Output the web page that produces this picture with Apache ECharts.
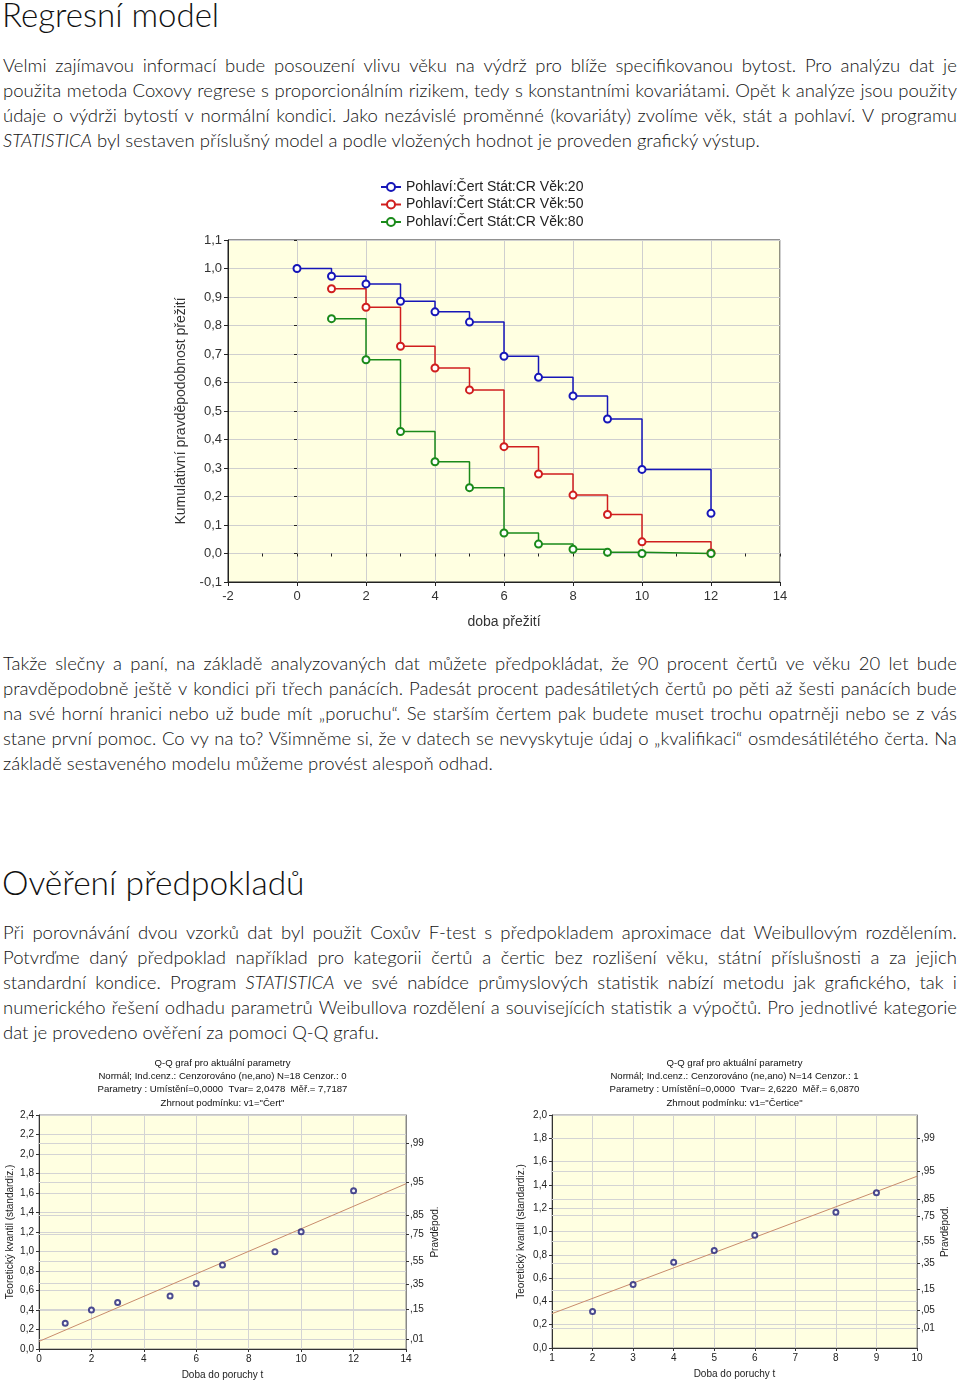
<!DOCTYPE html>
<html><head><meta charset="utf-8">
<script src="https://cdn.jsdelivr.net/npm/echarts@6/dist/echarts.min.js"></script>
<style>
body{margin:0;width:960px;height:1383px;position:relative;background:#fff;overflow:hidden;font-family:Lato,"Open Sans",sans-serif;font-weight:300;color:#111;}
.h{position:absolute;left:2px;font-weight:300;white-space:nowrap;}
.ln{position:absolute;left:3px;width:954px;height:25px;line-height:25px;font-size:18.5px;white-space:nowrap;}
.j{display:flex;justify-content:space-between;}
.c{position:absolute;}
</style></head><body>
<div class="h" style="top:-4px;font-size:33px;line-height:36px;">Regresní model</div>
<div class="h" style="top:864px;font-size:33.5px;line-height:36px;">Ověření předpokladů</div>
<div id="main" class="c" style="left:170px;top:170px;width:630px;height:465px;"></div>
<div id="qq1" class="c" style="left:0px;top:1052px;width:465px;height:331px;"></div>
<div id="qq2" class="c" style="left:500px;top:1052px;width:460px;height:331px;"></div>
<script>
// ---------- text ----------
const para1 = [
 "Velmi zajímavou informací bude posouzení vlivu věku na výdrž pro blíže specifikovanou bytost. Pro analýzu dat je",
 "použita metoda Coxovy regrese s proporcionálním rizikem, tedy s konstantními kovariátami. Opět k analýze jsou použity",
 "údaje o výdrži bytostí v normální kondici. Jako nezávislé proměnné (kovariáty) zvolíme věk, stát a pohlaví. V programu",
 "_STATISTICA_ byl sestaven příslušný model a podle vložených hodnot je proveden grafický výstup."
];
const para2 = [
 "Takže slečny a paní, na základě analyzovaných dat můžete předpokládat, že 90 procent čertů ve věku 20 let bude",
 "pravděpodobně ještě v kondici při třech panácích. Padesát procent padesátiletých čertů po pěti až šesti panácích bude",
 "na své horní hranici nebo už bude mít „poruchu“. Se starším čertem pak budete muset trochu opatrněji nebo se z vás",
 "stane první pomoc. Co vy na to? Všimněme si, že v datech se nevyskytuje údaj o „kvalifikaci“ osmdesátilétého čerta. Na",
 "základě sestaveného modelu můžeme provést alespoň odhad."
];
const para3 = [
 "Při porovnávání dvou vzorků dat byl použit Coxův F-test s předpokladem aproximace dat Weibullovým rozdělením.",
 "Potvrďme daný předpoklad například pro kategorii čertů a čertic bez rozlišení věku, státní příslušnosti a za jejich",
 "standardní kondice. Program _STATISTICA_ ve své nabídce průmyslových statistik nabízí metodu jak grafického, tak i",
 "numerického řešení odhadu parametrů Weibullova rozdělení a souvisejících statistik a výpočtů. Pro jednotlivé kategorie",
 "dat je provedeno ověření za pomoci Q-Q grafu."
];
function fmt(t){return t.replace(/_([^_]+)_/g,'<i>$1</i>');}
function addPara(lines, top0){
  lines.forEach((t,i)=>{
    const d=document.createElement('div');
    const last = i===lines.length-1;
    d.className='ln'+(last?'':' j');
    d.style.top=(top0+i*25)+'px';
    if(!last){
      t.split(/\s+/).forEach(w=>{const s=document.createElement('span');s.innerHTML=fmt(w);d.appendChild(s);});
    } else d.innerHTML=fmt(t);
    document.body.appendChild(d);
  });
}
addPara(para1,53);
addPara(para2,651);
addPara(para3,920);

// ---------- main chart data ----------
const seriesNames = ['Pohlaví:Čert Stát:CR Věk:20','Pohlaví:Čert Stát:CR Věk:50','Pohlaví:Čert Stát:CR Věk:80'];
const time20 = [0,1,2,3,4,5,6,7,8,9,10,12];
const surv20 = [1.000,0.973,0.946,0.885,0.848,0.812,0.692,0.618,0.553,0.472,0.295,0.141];
const time5080 = [1,2,3,4,5,6,7,8,9,10,12];
const surv50 = [0.929,0.864,0.727,0.651,0.574,0.375,0.279,0.205,0.137,0.041,0.002];
const surv80 = [0.824,0.680,0.428,0.322,0.231,0.072,0.033,0.015,0.004,0.000,0.000];
const seriesColors = ['#1616b8','#d01e1e','#1a8a1a'];

const AF = "'Liberation Sans', Arial, sans-serif";
const comma1 = v => (Math.abs(v)<1e-9?0:v).toFixed(1).replace('.',',');

function zip(xs,ys){return xs.map((x,i)=>[x,ys[i]]);}
const mainData = [zip(time20,surv20), zip(time5080,surv50), zip(time5080,surv80)];

const mainChart = echarts.init(document.getElementById('main'),null,{renderer:'canvas'});
mainChart.setOption({
  animation:false,
  legend:{orient:'vertical',left:205,top:5,itemWidth:20,itemHeight:10,itemGap:3.5,
    textStyle:{fontFamily:AF,fontSize:14,color:'#222'},data:seriesNames},
  grid:{left:58,top:70,width:552,height:342,show:true,backgroundColor:'#ffffe1',borderColor:'#222',borderWidth:1,outerBoundsMode:'none',containLabel:false},
  xAxis:[{type:'value',min:-2,max:14,interval:2,
    axisLine:{onZero:false,lineStyle:{color:'#222'}},axisTick:{length:4,lineStyle:{color:'#222'}},
    axisLabel:{fontFamily:AF,fontSize:13,color:'#333',margin:8},
    splitLine:{lineStyle:{color:'#cfcfcf'}},
    name:'doba přežití',nameLocation:'middle',nameGap:33,nameTextStyle:{fontFamily:AF,fontSize:14,color:'#333'}},
    {type:'value',position:'top',min:-2,max:14,interval:1,axisLine:{show:false},
     axisTick:{inside:true,length:3,lineStyle:{color:'#222'}},axisLabel:{show:false},splitLine:{show:false}}],
  yAxis:[{type:'value',min:-0.1,max:1.1,interval:0.1,
    axisLine:{show:true,onZero:false,lineStyle:{color:'#222'}},axisTick:{show:true,length:4,lineStyle:{color:'#222'}},
    axisLabel:{fontFamily:AF,fontSize:13,color:'#333',margin:6,formatter:comma1},
    splitLine:{lineStyle:{color:'#cfcfcf'}},
    name:'Kumulativní pravděpodobnost přežití',nameLocation:'middle',nameGap:40,nameTextStyle:{fontFamily:AF,fontSize:14,color:'#333'}},
    {type:'value',position:'right',min:-0.1,max:1.1,interval:0.1,axisLine:{show:false},
     axisTick:{show:true,inside:true,length:3,lineStyle:{color:'#222'}},axisLabel:{show:false},splitLine:{show:false}}],
  series: seriesNames.map((n,i)=>({
    name:n,type:'line',step:'end',data:mainData[i],
    symbol:'emptyCircle',symbolSize:7,
    lineStyle:{color:seriesColors[i],width:1.5},
    itemStyle:{color:seriesColors[i],borderWidth:1.8}
  }))
});

// ---------- Q-Q data ----------
const qq1Title = ['Q-Q graf pro aktuální parametry','Normál; Ind.cenz.: Cenzorováno (ne,ano) N=18 Cenzor.: 0','Parametry : Umístění=0,0000  Tvar= 2,0478  Měř.= 7,7187','Zhrnout podmínku: v1="Čert"'];
const qq1X = [1,2,3,5,6,7,9,10,12];
const qq1Y = [0.263,0.400,0.478,0.543,0.673,0.861,0.998,1.203,1.624];
const qq1FitX = [0,14];
const qq1FitY = [0.078,1.695];
const qq1ProbPos = [0.104,0.405,0.668,0.898,1.180,1.367,1.707,2.107];
const qq1ProbLab = [',01',',15',',35',',55',',75',',85',',95',',99'];

const qq2Title = ['Q-Q graf pro aktuální parametry','Normál; Ind.cenz.: Cenzorováno (ne,ano) N=14 Cenzor.: 1','Parametry : Umístění=0,0000  Tvar= 2,6220  Měř.= 6,0870','Zhrnout podmínku: v1="Čertice"'];
const qq2X = [2,3,4,5,6,8,9];
const qq2Y = [0.314,0.544,0.735,0.836,0.967,1.165,1.332];
const qq2FitX = [1,10];
const qq2FitY = [0.295,1.474];
const qq2ProbPos = [0.173,0.321,0.501,0.728,0.920,1.135,1.279,1.518,1.800];
const qq2ProbLab = [',01',',05',',15',',35',',55',',75',',85',',95',',99'];

function qqOption(c){
  const cx = c.gridLeft + c.gridWidth/2;
  return {
    animation:false,
    graphic:c.title.map((t,i)=>({type:'text',x:cx,y:6+i*13.4,style:{text:t,textAlign:'center',textVerticalAlign:'top',font:"9.6px 'Liberation Sans', Arial, sans-serif",fill:'#111'}})),
    grid:{left:c.gridLeft,top:63,width:c.gridWidth,height:c.gridHeight,show:true,backgroundColor:'#ffffe1',borderColor:'#888',borderWidth:1,outerBoundsMode:'none',containLabel:false},
    xAxis:{type:'value',min:c.xmin,max:c.xmax,interval:c.xint,
      axisLine:{onZero:false,lineStyle:{color:'#333'}},axisTick:{length:3,lineStyle:{color:'#333'}},
      axisLabel:{fontFamily:AF,fontSize:10,color:'#222',margin:5},
      splitLine:{lineStyle:{color:'#d4d4d4'}},
      name:'Doba do poruchy t',nameLocation:'middle',nameGap:21,nameMoveOverlap:false,nameTextStyle:{fontFamily:AF,fontSize:10,color:'#222'}},
    yAxis:[{type:'value',min:0,max:c.ymax,interval:0.2,
      axisLine:{show:true,onZero:false,lineStyle:{color:'#333'}},axisTick:{show:true,length:3,lineStyle:{color:'#333'}},
      axisLabel:{fontFamily:AF,fontSize:10,color:'#222',margin:5,formatter:comma1},
      splitLine:{lineStyle:{color:'#d4d4d4'}},
      name:'Teoretický kvantil (standardiz.)',nameLocation:'middle',nameGap:c.nameGapL,nameMoveOverlap:false,nameTextStyle:{fontFamily:AF,fontSize:10,color:'#222'}},
     {type:'value',position:'right',min:0,max:c.ymax,
      axisLine:{show:true,onZero:false,lineStyle:{color:'#888'}},
      axisTick:{show:true,length:3,customValues:c.probPos,lineStyle:{color:'#333'}},
      axisLabel:{fontFamily:AF,fontSize:10,color:'#222',margin:4,customValues:c.probPos,
        formatter:v=>{let k=0,b=1e9;c.probPos.forEach((p,i)=>{if(Math.abs(p-v)<b){b=Math.abs(p-v);k=i;}});return c.probLab[k];}},
      splitLine:{show:false},
      name:'Pravděpod.',nameLocation:'middle',nameGap:c.nameGapR,nameRotate:90,nameMoveOverlap:false,nameTextStyle:{fontFamily:AF,fontSize:10,color:'#222'}}],
    series:[
      {type:'line',data:zip(c.fitX,c.fitY),symbol:'none',lineStyle:{color:'#c98c6c',width:1},z:2,
       markLine:{silent:true,symbol:'none',label:{show:false},lineStyle:{color:'#d4d4d4',type:'solid',width:1},
         data:c.probPos.map(p=>({yAxis:p})),z:1}},
      {type:'scatter',data:zip(c.x,c.y),symbol:'emptyCircle',symbolSize:5,z:3,
       itemStyle:{color:'#1e1e78',borderColor:'#1e1e78',borderWidth:1.5}}
    ]
  };
}
echarts.init(document.getElementById('qq1')).setOption(qqOption({
  title:qq1Title,gridLeft:39,gridWidth:367,gridHeight:234,xmin:0,xmax:14,xint:2,ymax:2.4,nameGapL:24,nameGapR:24,
  x:qq1X,y:qq1Y,fitX:qq1FitX,fitY:qq1FitY,probPos:qq1ProbPos,probLab:qq1ProbLab}));
echarts.init(document.getElementById('qq2')).setOption(qqOption({
  title:qq2Title,gridLeft:52,gridWidth:365,gridHeight:233,xmin:1,xmax:10,xint:1,ymax:2.0,nameGapL:26,nameGapR:23,
  x:qq2X,y:qq2Y,fitX:qq2FitX,fitY:qq2FitY,probPos:qq2ProbPos,probLab:qq2ProbLab}));
</script>
</body></html>
